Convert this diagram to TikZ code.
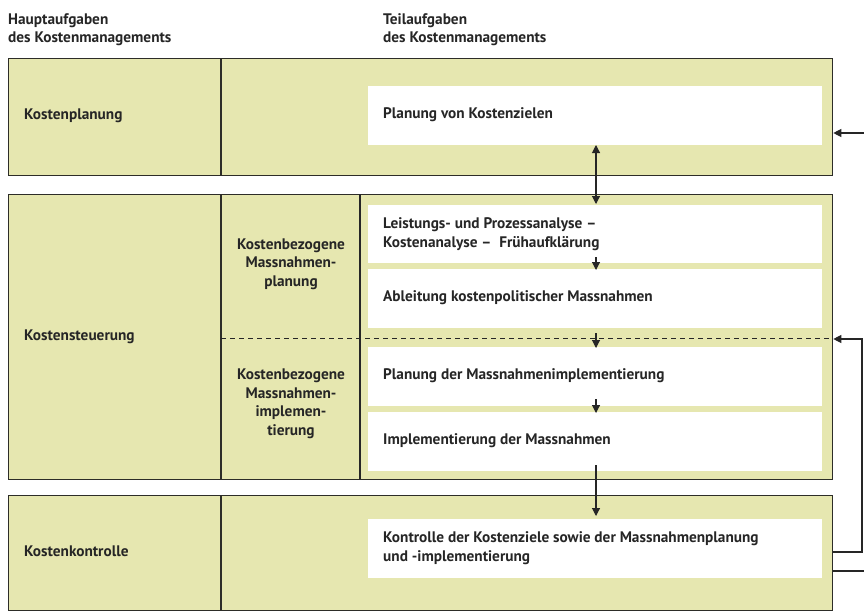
\documentclass[tikz,border=0pt]{standalone}
\usepackage{fontspec}
\setmainfont{PT Sans}
\usetikzlibrary{arrows.meta}
\definecolor{khaki}{RGB}{230,231,176}
\definecolor{edge}{RGB}{45,45,40}
\tikzset{
  x=1pt, y=-1pt,
  band/.style={draw=edge, line width=1.3pt, fill=khaki, anchor=north west, inner sep=0pt},
  whitebox/.style={fill=white, draw=none, anchor=north west, inner sep=0pt},
  lab/.style={font=\bfseries\fontsize{15.3}{18.5}\selectfont, text=black!85, inner sep=0pt},
  leftlab/.style={lab, anchor=west, align=left},
  midlab/.style={lab, align=center},
  head/.style={font=\bfseries\fontsize{15.3}{17.5}\selectfont, text=black!85, inner sep=0pt, anchor=base west, align=left},
  divider/.style={draw=edge, line width=1.3pt},
  thickdiv/.style={draw=black!85, line width=2.2pt},
  conn/.style={draw=black!85, line width=1.1pt},
  tip/.style={-{Triangle[length=8pt,width=8pt]}},
}
\begin{document}
\begin{tikzpicture}
\useasboundingbox (0,0) rectangle (864,613);
% headings
\node[head] (h1) at (8,42) {Hauptaufgaben\\des Kostenmanagements};
\node[head] (h2) at (383,42) {Teilaufgaben\\des Kostenmanagements};
% bands
\node[band, minimum width=824pt, minimum height=117pt] (r1) at (8,58) {};
\node[band, minimum width=824pt, minimum height=285pt] (r2) at (8,194) {};
\node[band, minimum width=824pt, minimum height=115pt] (r3) at (8,495) {};
% dividers
\draw[divider] (221,58) -- (221,175);
\draw[divider] (221,194) -- (221,479);
\draw[divider] (221,495) -- (221,610);
% white boxes
\node[whitebox, minimum width=454pt, minimum height=59pt] (w1) at (368,86) {};
\node[whitebox, minimum width=454pt, minimum height=58pt] (wa) at (368,205) {};
\node[whitebox, minimum width=454pt, minimum height=59pt] (wb) at (368,269) {};
\node[whitebox, minimum width=454pt, minimum height=59pt] (wc) at (368,347) {};
\node[whitebox, minimum width=454pt, minimum height=59pt] (wd) at (368,412) {};
\node[whitebox, minimum width=454pt, minimum height=59pt] (we) at (368,519) {};
% dashed line and thick divider
\draw[conn, line width=0.9pt, dash pattern=on 5pt off 4pt] (221,338) -- (832,338);
\draw[thickdiv] (360,194) -- (360,479);
% left labels
\node[leftlab] (l1) at (24,116) {Kostenplanung};
\node[leftlab] (l2) at (24,337) {Kostensteuerung};
\node[leftlab] (l3) at (24,551) {Kostenkontrolle};
% middle labels
\node[midlab] (m1) at (291,264) {Kostenbezogene\\Massnahmen-\\planung};
\node[midlab] (m2) at (291,404) {Kostenbezogene\\Massnahmen-\\implemen-\\tierung};
% box texts
\node[leftlab] (t1) at (383,115) {Planung von Kostenzielen};
\node[leftlab] (ta) at (383,234) {Leistungs- und Prozessanalyse --\\Kostenanalyse --\ \ Frühaufklärung};
\node[leftlab] (tb) at (383,298) {Ableitung kostenpolitischer Massnahmen};
\node[leftlab] (tc) at (383,376) {Planung der Massnahmenimplementierung};
\node[leftlab] (td) at (383,441) {Implementierung der Massnahmen};
\node[leftlab] (te) at (383,548) {Kontrolle der Kostenziele sowie der Massnahmenplanung\\und -implementierung};
% vertical arrows
\draw[conn, {Triangle[length=8pt,width=8pt]}-{Triangle[length=8pt,width=8pt]}] (596,145) -- (596,204);
\draw[conn, tip] (596,257) -- (596,270);
\draw[conn, tip] (596,333) -- (596,348);
\draw[conn, tip] (596,399) -- (596,413);
\draw[conn, tip] (596,465) -- (596,516);
% right side feedback
\coordinate (e1) at (864,133);
\draw[conn, tip] (e1) -- (r1.east |- e1);
\coordinate (f0) at (r3.east |- 0,552);
\coordinate (f1) at (862,552);
\coordinate (f2) at (862,339);
\draw[conn, tip] (f0) -- (f1) -- (f2) -- (r2.east |- f2);
\coordinate (g0) at (r3.east |- 0,571);
\coordinate (g1) at (864,571);
\draw[conn] (g0) -- (g1);
\end{tikzpicture}
\end{document}
